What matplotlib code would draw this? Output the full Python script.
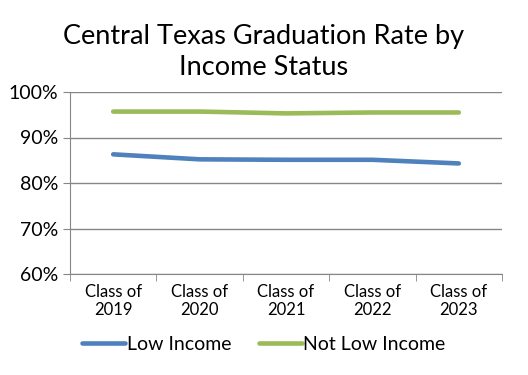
import matplotlib.pyplot as plt
from matplotlib.ticker import FuncFormatter

# datos de la grafica
categorias = ["Class of\n2019", "Class of\n2020", "Class of\n2021", "Class of\n2022", "Class of\n2023"]
bajo_ingreso = [86.3, 85.2, 85.1, 85.1, 84.3]
no_bajo_ingreso = [95.7, 95.7, 95.3, 95.5, 95.5]

plt.rcParams['font.family'] = ['Lato', 'DejaVu Sans']

fig = plt.figure(figsize=(5.28, 3.75), dpi=100)
ax = fig.add_axes([70/528, 1-274/375, 432/528, 182/375])

x = range(len(categorias))
ax.plot(x, bajo_ingreso, color='#4F81BD', lw=3.3, label='Low Income', solid_capstyle='round')
ax.plot(x, no_bajo_ingreso, color='#9BBB59', lw=3.3, label='Not Low Income', solid_capstyle='round')

ax.set_xlim(-0.5, len(categorias) - 0.5)
ax.set_ylim(60, 100)
ax.set_yticks([60, 70, 80, 90, 100])
ax.yaxis.set_major_formatter(FuncFormatter(lambda v, p: "%d%%" % v))
ax.grid(axis='y', color='#868686', lw=1)
ax.set_axisbelow(True)

ax.set_xticks(x)
ax.set_xticklabels(categorias, fontsize=12)
ax.set_xticks([i - 0.5 for i in range(len(categorias) + 1)], minor=True)
ax.tick_params(axis='x', which='major', length=0, pad=7)
ax.tick_params(axis='x', which='minor', length=5, color='#868686')
ax.tick_params(axis='y', length=5, color='#868686', labelsize=14)

for s in ['top', 'right']:
    ax.spines[s].set_visible(False)
for s in ['left', 'bottom']:
    ax.spines[s].set_color('#868686')

fig.text(0.5, 0.787, "Central Texas Graduation Rate by\nIncome Status", fontsize=19.5,
         ha='center', va='bottom', linespacing=1.3)

fig.legend(loc='lower center', bbox_to_anchor=(0.5, 0.012), ncol=2, frameon=False,
           fontsize=14, handlelength=2.2, handletextpad=0.1, columnspacing=1.4)

fig.savefig('out.png', dpi=100)
